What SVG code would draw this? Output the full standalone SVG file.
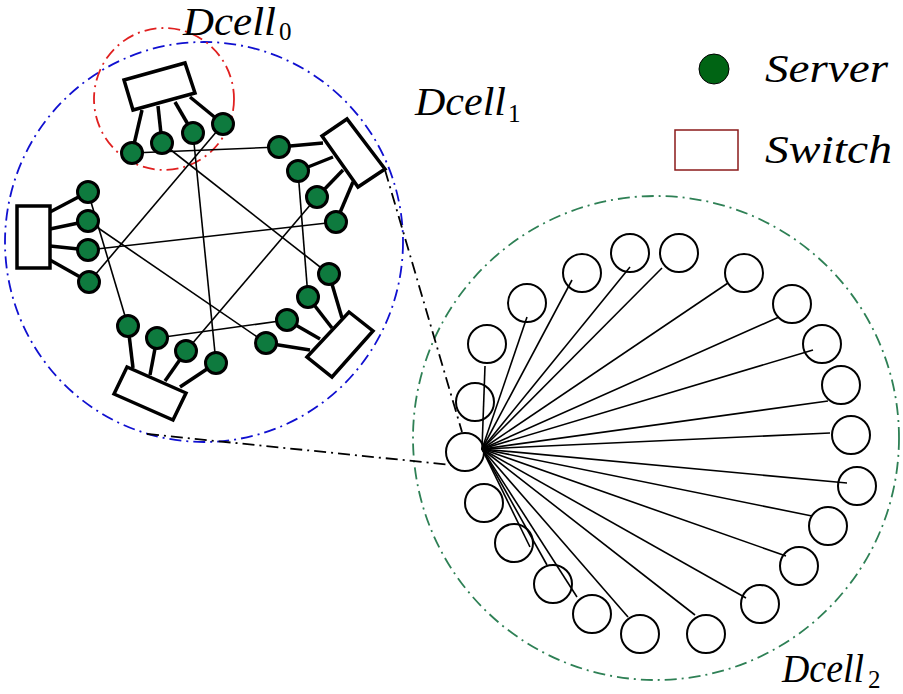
<svg xmlns="http://www.w3.org/2000/svg" width="903" height="694" viewBox="0 0 903 694">
<style>
.lbl{font-family:"Liberation Serif",serif;font-style:italic;font-size:39px;fill:#000}
.sub{font-family:"Liberation Serif",serif;font-size:25px;fill:#000}
.srv{fill:#0e7a3e;stroke:#000;stroke-width:3}
.sw{fill:#fff;stroke:#000;stroke-width:3.5}
.up{stroke:#000;stroke-width:3.5;fill:none}
.lk{stroke:#000;stroke-width:1.6;fill:none}
.c2{fill:#fff;stroke:#000;stroke-width:2}
.dd{fill:none;stroke-width:1.8;stroke-dasharray:12 5 2 5}
</style>
<rect width="903" height="694" fill="#fff"/>
<g id="boundaries">
<ellipse cx="204" cy="242" rx="199" ry="200" class="dd" stroke="#1010d0"/>
<ellipse cx="164" cy="99" rx="70" ry="71" class="dd" stroke="#e02020"/>
<ellipse cx="656" cy="438" rx="243" ry="242" class="dd" stroke="#2e8055"/>
</g>
<g id="connectors">
<line x1="385" y1="170" x2="462" y2="432" class="dd" stroke="#000"/>
<line x1="147" y1="434" x2="462" y2="466" class="dd" stroke="#000"/>
<line x1="132" y1="153" x2="279" y2="147" class="lk"/>
<line x1="162" y1="143" x2="329" y2="274" class="lk"/>
<line x1="193" y1="133" x2="216" y2="363" class="lk"/>
<line x1="223" y1="124" x2="89" y2="282" class="lk"/>
<line x1="298" y1="171" x2="308" y2="297" class="lk"/>
<line x1="317" y1="197" x2="186" y2="351" class="lk"/>
<line x1="336" y1="222" x2="88" y2="250" class="lk"/>
<line x1="88" y1="192" x2="128" y2="326" class="lk"/>
<line x1="88" y1="221" x2="266" y2="343" class="lk"/>
<line x1="157" y1="338" x2="287" y2="320" class="lk"/>
<line x1="132" y1="153" x2="142" y2="110" class="up"/>
<line x1="162" y1="143" x2="158" y2="106" class="up"/>
<line x1="193" y1="133" x2="175" y2="102" class="up"/>
<line x1="223" y1="124" x2="190" y2="97" class="up"/>
<line x1="279" y1="147" x2="323" y2="143" class="up"/>
<line x1="298" y1="171" x2="333" y2="157" class="up"/>
<line x1="317" y1="197" x2="343" y2="170" class="up"/>
<line x1="336" y1="222" x2="353" y2="182" class="up"/>
<line x1="88" y1="192" x2="50" y2="212" class="up"/>
<line x1="88" y1="221" x2="50" y2="229" class="up"/>
<line x1="88" y1="250" x2="50" y2="246" class="up"/>
<line x1="89" y1="282" x2="50" y2="260" class="up"/>
<line x1="128" y1="326" x2="133" y2="368" class="up"/>
<line x1="157" y1="338" x2="150" y2="375" class="up"/>
<line x1="186" y1="351" x2="165" y2="381" class="up"/>
<line x1="216" y1="363" x2="180" y2="387" class="up"/>
<line x1="266" y1="343" x2="310" y2="350" class="up"/>
<line x1="287" y1="320" x2="320" y2="339" class="up"/>
<line x1="308" y1="297" x2="332" y2="328" class="up"/>
<line x1="329" y1="274" x2="342" y2="318" class="up"/>
</g>
<g id="dcell2-nodes">
<circle cx="475" cy="402" r="19" class="c2"/>
<circle cx="487" cy="344" r="19" class="c2"/>
<circle cx="527" cy="303" r="19" class="c2"/>
<circle cx="582" cy="273" r="19" class="c2"/>
<circle cx="630" cy="253" r="19" class="c2"/>
<circle cx="679" cy="253" r="19" class="c2"/>
<circle cx="744" cy="273" r="19" class="c2"/>
<circle cx="792" cy="304" r="19" class="c2"/>
<circle cx="822" cy="344" r="19" class="c2"/>
<circle cx="841" cy="385" r="19" class="c2"/>
<circle cx="851" cy="435" r="19" class="c2"/>
<circle cx="857" cy="486" r="19" class="c2"/>
<circle cx="828" cy="526" r="19" class="c2"/>
<circle cx="799" cy="566" r="19" class="c2"/>
<circle cx="760" cy="604" r="19" class="c2"/>
<circle cx="706" cy="634" r="19" class="c2"/>
<circle cx="640" cy="634" r="19" class="c2"/>
<circle cx="592" cy="614" r="19" class="c2"/>
<circle cx="553" cy="584" r="19" class="c2"/>
<circle cx="514" cy="543" r="19" class="c2"/>
<circle cx="484" cy="503" r="19" class="c2"/>
<circle id="hub" cx="465" cy="452" r="19" class="c2"/>
</g>
<g id="dcell2-links">
<line x1="482" y1="449" x2="485" y2="366" class="lk"/>
<line x1="482" y1="449" x2="527" y2="317" class="lk"/>
<line x1="482" y1="449" x2="572" y2="280" class="lk"/>
<line x1="482" y1="449" x2="630" y2="267" class="lk"/>
<line x1="482" y1="449" x2="662" y2="268" class="lk"/>
<line x1="482" y1="449" x2="728" y2="283" class="lk"/>
<line x1="482" y1="449" x2="779" y2="317" class="lk"/>
<line x1="482" y1="449" x2="813" y2="350" class="lk"/>
<line x1="482" y1="449" x2="828" y2="401" class="lk"/>
<line x1="482" y1="449" x2="830" y2="433" class="lk"/>
<line x1="482" y1="449" x2="847" y2="483" class="lk"/>
<line x1="482" y1="449" x2="812" y2="516" class="lk"/>
<line x1="482" y1="449" x2="786" y2="556" class="lk"/>
<line x1="482" y1="449" x2="746" y2="598" class="lk"/>
<line x1="482" y1="449" x2="695" y2="615" class="lk"/>
<line x1="482" y1="449" x2="628" y2="617" class="lk"/>
<line x1="482" y1="449" x2="577" y2="597" class="lk"/>
<line x1="482" y1="449" x2="547" y2="565" class="lk"/>
<line x1="482" y1="449" x2="530" y2="547" class="lk"/>
</g>
<g id="switches">
<polygon id="sw-top" points="124,80 185,63 195,93 133,110" class="sw"/>
<polygon id="sw-right" points="322,136 347,119 385,169 358,187" class="sw"/>
<rect id="sw-left" x="17" y="206" width="33" height="62" class="sw"/>
<polygon id="sw-bottom" points="114,394 127,367 186,393 173,420" class="sw"/>
<polygon id="sw-bright" points="307,357 349,312 373,331 332,377" class="sw"/>
</g>
<g id="servers">
<circle cx="132" cy="153" r="10.5" class="srv"/>
<circle cx="162" cy="143" r="10.5" class="srv"/>
<circle cx="193" cy="133" r="10.5" class="srv"/>
<circle cx="223" cy="124" r="10.5" class="srv"/>
<circle cx="279" cy="147" r="10.5" class="srv"/>
<circle cx="298" cy="171" r="10.5" class="srv"/>
<circle cx="317" cy="197" r="10.5" class="srv"/>
<circle cx="336" cy="222" r="10.5" class="srv"/>
<circle cx="88" cy="192" r="10.5" class="srv"/>
<circle cx="88" cy="221" r="10.5" class="srv"/>
<circle cx="88" cy="250" r="10.5" class="srv"/>
<circle cx="89" cy="282" r="10.5" class="srv"/>
<circle cx="128" cy="326" r="10.5" class="srv"/>
<circle cx="157" cy="338" r="10.5" class="srv"/>
<circle cx="186" cy="351" r="10.5" class="srv"/>
<circle cx="216" cy="363" r="10.5" class="srv"/>
<circle cx="266" cy="343" r="10.5" class="srv"/>
<circle cx="287" cy="320" r="10.5" class="srv"/>
<circle cx="308" cy="297" r="10.5" class="srv"/>
<circle cx="329" cy="274" r="10.5" class="srv"/>
</g>
<g id="labels">
<text class="lbl" x="183" y="35" textLength="93" lengthAdjust="spacingAndGlyphs">Dcell</text>
<text class="sub" x="279" y="40">0</text>
<text class="lbl" x="415" y="115" textLength="91" lengthAdjust="spacingAndGlyphs">Dcell</text>
<text class="sub" x="508" y="122">1</text>
<text class="lbl" x="782" y="682" textLength="82" lengthAdjust="spacingAndGlyphs">Dcell</text>
<text class="sub" x="868" y="688" font-size="24">2</text>
</g>
<g id="legend">
<circle cx="714" cy="69" r="15" fill="#006414" stroke="#000" stroke-width="1"/>
<text class="lbl" x="765" y="82" textLength="123" lengthAdjust="spacingAndGlyphs">Server</text>
<rect x="675" y="130" width="63" height="40" fill="#fff" stroke="#8b1a1a" stroke-width="1.5"/>
<text class="lbl" x="765" y="163" textLength="127" lengthAdjust="spacingAndGlyphs">Switch</text>
</g>
</svg>
